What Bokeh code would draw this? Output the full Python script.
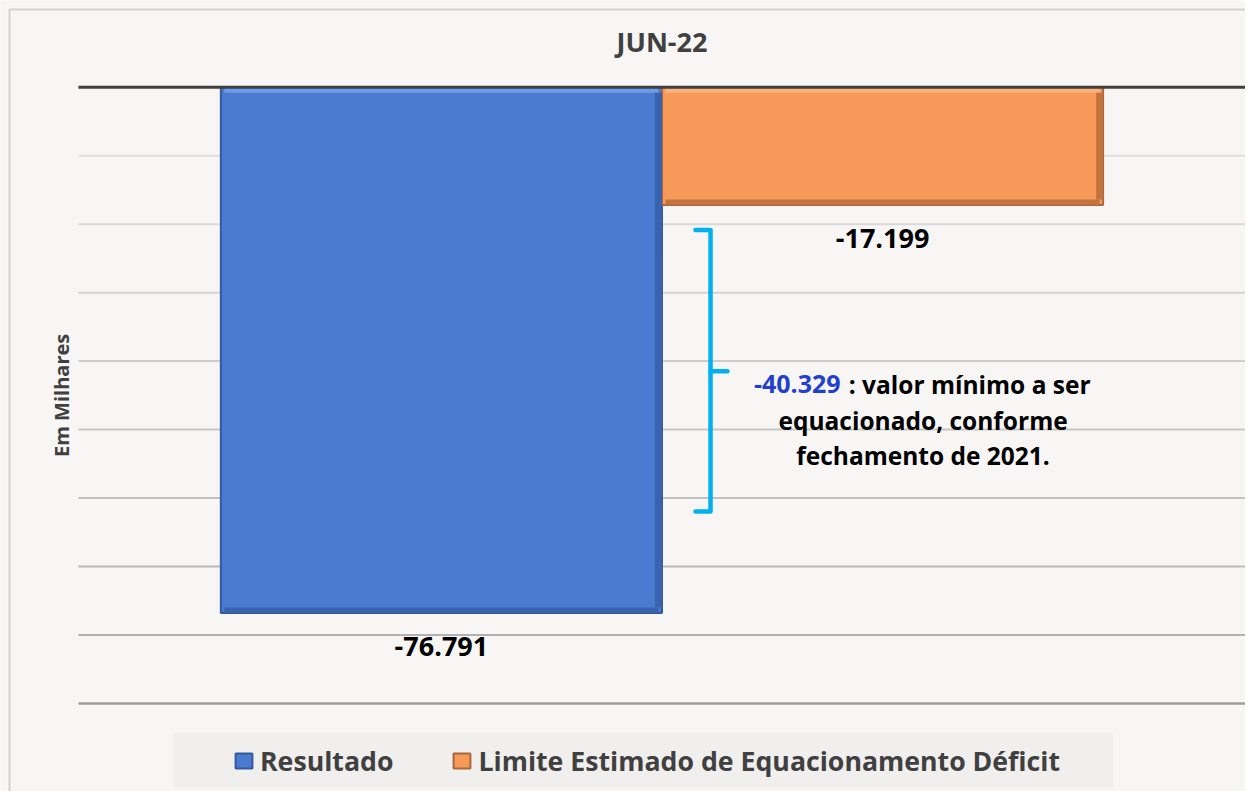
import math
from bokeh.plotting import figure
from bokeh.models import Range1d, Legend, LegendItem
from bokeh.core.properties import value
from bokeh.embed import file_html
from bokeh.resources import INLINE

# ---------------- data ----------------
title_text = "JUN-22"
series = ["Resultado", "Limite Estimado de Equacionamento Déficit"]
values = [-76.791, -17.199]
minimo = -40.329
annotation_rest = [": valor mínimo a ser", "equacionado, conforme", "fechamento de 2021."]
y_ticks = [0, -10, -20, -30, -40, -50, -60, -70, -80, -90]
y_label = "Em Milhares"

# ---------------- style ----------------
FONT = "Open Sans"
BG = "#f7f6f4"
fills = ["#4a7bd0", "#f79a59"]
lights = ["#6f9ce9", "#fbb27c"]
darks = ["#3a63ad", "#c2733f"]
edges = ["#34599c", "#a9673c"]
grid_colors = ["#404040", "#dedede", "#d9d9d9", "#d3d3d3", "#cdcdcd",
               "#c7c7c7", "#c1c1c1", "#b9b9b9", "#b1b1b1", "#9e9e9e"]
grid_widths = [3, 2, 2, 2, 2, 2, 2, 2, 2, 2.5]
bar_w = 0.378
bar_x = [-bar_w / 2, bar_w / 2]
bevel = 0.8
PX = 6.847          # screen pixels per value unit (vertical)
XL, XR = -0.5, 0.5  # plotting area in x

# the frame covers the whole canvas; the plotting area is drawn inside it
p = figure(width=1245, height=791,
           x_range=Range1d(-0.5668, 0.5), y_range=Range1d(-102.86, 12.67),
           output_backend="svg", toolbar_location=None,
           min_border=0, background_fill_color=BG, border_fill_color=BG,
           outline_line_color=None)
p.axis.visible = False
p.grid.visible = False

# outer chart border (left and top)
p.segment(x0=[-0.5591, -0.5591], y0=[11.35, 11.35], x1=[-0.5591, 0.5], y1=[-102.86, 11.35],
          line_color="#d2d2d2", line_width=2)

# grid lines (not the zero line, drawn later over the bars)
p.segment(x0=[XL] * (len(y_ticks) - 1), x1=[XR] * (len(y_ticks) - 1),
          y0=y_ticks[1:], y1=y_ticks[1:], line_color=grid_colors[1:],
          line_width=grid_widths[1:])

items = []
for i in range(len(series)):
    r = p.vbar(x=[bar_x[i]], bottom=[0], top=[values[i]], width=bar_w,
               fill_color=fills[i], line_color=edges[i], line_width=2)
    items.append(LegendItem(label=series[i], renderers=[r]))

# bevel shading of the bars
p.vbar(x=bar_x, top=[0, 0], bottom=[-bevel, -bevel], width=bar_w - 0.006,
       fill_color=lights, line_color=None)
p.vbar(x=bar_x, top=[v + bevel for v in values], bottom=values, width=bar_w - 0.006,
       fill_color=darks, line_color=None)
p.vbar(x=[x + bar_w / 2 - 0.003 for x in bar_x], top=[-bevel, -bevel],
       bottom=[v + bevel for v in values], width=0.006,
       fill_color=darks, line_color=None)

# zero line
p.segment(x0=[XL], x1=[XR], y0=[y_ticks[0]], y1=[y_ticks[0]],
          line_color=grid_colors[0], line_width=grid_widths[0])

# title
p.text(x=[(XL + XR) / 2], y=[y_ticks[0] + 46 / PX], text=[title_text],
       text_font=value(FONT), text_font_style="bold", text_font_size="27px",
       text_align="center", text_baseline="middle", text_color="#404040")

# y axis label
p.text(x=[XL - 17 / 1167], y=[(y_ticks[0] + y_ticks[-1]) / 2], text=[y_label],
       angle=math.pi / 2,
       text_font=value(FONT), text_font_style="bold", text_font_size="20px",
       text_align="center", text_baseline="middle", text_color="#404040")

# value labels below bar ends
p.text(x=bar_x, y=[v - 4.9 for v in values], text=[f"{v:.3f}" for v in values],
       text_font=value(FONT), text_font_style="bold", text_font_size="27px",
       text_align="center", text_baseline="middle", text_color="black")

# bracket annotation
p.multi_line(xs=[[0.0287, 0.0416, 0.0416, 0.0287], [0.0416, 0.0561]],
             ys=[[-20.84, -20.84, -61.95, -61.95], [-41.47, -41.47]],
             line_color="#00b0f0", line_width=4.5, line_join="round", line_cap="round")

p.text(x=[0.153], y=[-43.4], text=[f"{minimo:.3f}"],
       text_font=value(FONT), text_font_style="bold", text_font_size="25px",
       text_align="right", text_baseline="middle", text_color="#1f40d0")
p.text(x=[0.160], y=[-43.4], text=[annotation_rest[0]],
       text_font=value(FONT), text_font_style="bold", text_font_size="24.5px",
       text_align="left", text_baseline="middle", text_color="black")
p.text(x=[0.2237, 0.2237], y=[-48.66, -53.77], text=annotation_rest[1:],
       text_font=value(FONT), text_font_style="bold", text_font_size="24.5px",
       text_align="center", text_baseline="middle", text_color="black")

# legend band
p.quad(left=[-0.4186], right=[0.3869], top=[-94.3], bottom=[-102.3],
       fill_color="#f0efed", line_color=None)

legend = Legend(items=items, orientation="horizontal", location=(233, 12),
                spacing=58, label_standoff=6, glyph_width=21, glyph_height=19,
                label_text_font=FONT, label_text_font_style="bold",
                label_text_font_size="26.7px", label_text_color="#404040",
                background_fill_alpha=0, border_line_color=None,
                padding=12, margin=0)
p.add_layout(legend)

open("out.html", "w").write(file_html(p, INLINE))
